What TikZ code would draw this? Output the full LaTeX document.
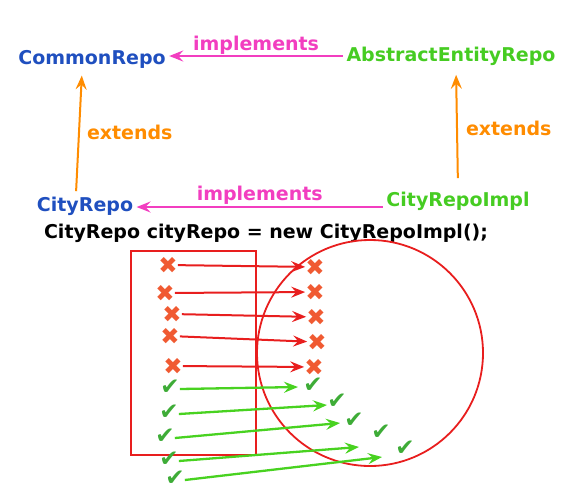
\documentclass[tikz,border=0pt]{standalone}
\usepackage{fontspec}
\setmainfont{DejaVu Sans}
\usetikzlibrary{arrows.meta}
\definecolor{repoblue}{RGB}{31,79,191}
\definecolor{implgreen}{RGB}{70,204,34}
\definecolor{implpink}{RGB}{242,62,192}
\definecolor{extorange}{RGB}{255,140,0}
\definecolor{setred}{RGB}{232,30,30}
\definecolor{crossred}{RGB}{240,90,50}
\definecolor{tickgreen}{RGB}{62,172,55}
\definecolor{mapgreen}{RGB}{72,210,32}
\begin{document}
\begin{tikzpicture}[x=1pt,y=-1pt,
  every node/.style={font=\fontsize{19}{22}\selectfont\bfseries},
  tip/.style={-{Stealth[length=14pt,width=11pt,inset=5pt]}},
  implline/.style={implpink,line width=2pt,tip},
  extline/.style={extorange,line width=2pt,tip},
  redline/.style={setred,line width=2pt,tip},
  greenline/.style={mapgreen,line width=2.3pt,tip},
  badmap/.style={text=crossred,font=\fontsize{23}{23}\selectfont,inner sep=0pt},
  goodmap/.style={text=tickgreen,font=\fontsize{23}{23}\selectfont,inner sep=0pt,
    text height=10pt,text depth=-5pt}]
\useasboundingbox (0,0) rectangle (588,491);
\node[text=repoblue] (common) at (92,59) {CommonRepo};
\node[text=implgreen] (abstract) at (451,56) {AbstractEntityRepo};
\node[text=repoblue] (city) at (85,206) {CityRepo};
\node[text=implgreen] (cityimpl) at (458,201) {CityRepoImpl};
\node (code) at (266,233) {CityRepo cityRepo = new CityRepoImpl();};
\draw[implline] (abstract.west) -- (abstract.west -| common.east)
  node[midway,above,text=implpink,inner sep=1pt] {implements};
\draw[implline] ([yshift=-6pt]cityimpl.west) -- ([yshift=-6pt]cityimpl.west -| city.east)
  node[midway,above,text=implpink,inner sep=2pt] {implements};
\draw[extline,shorten <=2pt,shorten >=4pt] ([xshift=-9pt]city.north) -- ([xshift=-10pt]common.south)
  node[midway,right,text=extorange,inner sep=7pt] {extends};
\draw[extline,shorten <=10pt,shorten >=6pt] (cityimpl.north) -- ([xshift=5pt]abstract.south)
  node[midway,right,text=extorange,inner sep=8pt] {extends};
\draw[setred,line width=1.8pt] (131,251) rectangle (256,455);
\draw[setred,line width=1.8pt] (370,353) circle (113pt);
\foreach \n/\x/\y in {1/168/265,2/165/293,3/172/314,4/170/336,5/173/366}
  \node[badmap] (a\n) at (\x,\y) {✖};
\foreach \n/\x/\y in {1/315/267,2/315/292,3/316/317,4/317/342,5/314/367}
  \node[badmap] (b\n) at (\x,\y) {✖};
\foreach \n in {1,...,5}
  \draw[redline] (a\n) -- (b\n);
\foreach \n/\x/\y in {1/170/389,2/169/414,3/165/438,4/169/461,5/175/480}
  \node[goodmap] (c\n) at (\x,\y) {✔};
\foreach \n/\x/\y in {1/313/387,2/337/403,3/354/422,4/381/434,5/405/450}
  \node[goodmap] (d\n) at (\x,\y) {✔};
\foreach \n/\x/\y in {1/298/387,2/327/405,3/340/423,4/359/447,5/382/457}
  \coordinate (t\n) at (\x,\y);
\foreach \n in {1,...,5}
  \draw[greenline] (c\n.east) -- (t\n);
\end{tikzpicture}
\end{document}
